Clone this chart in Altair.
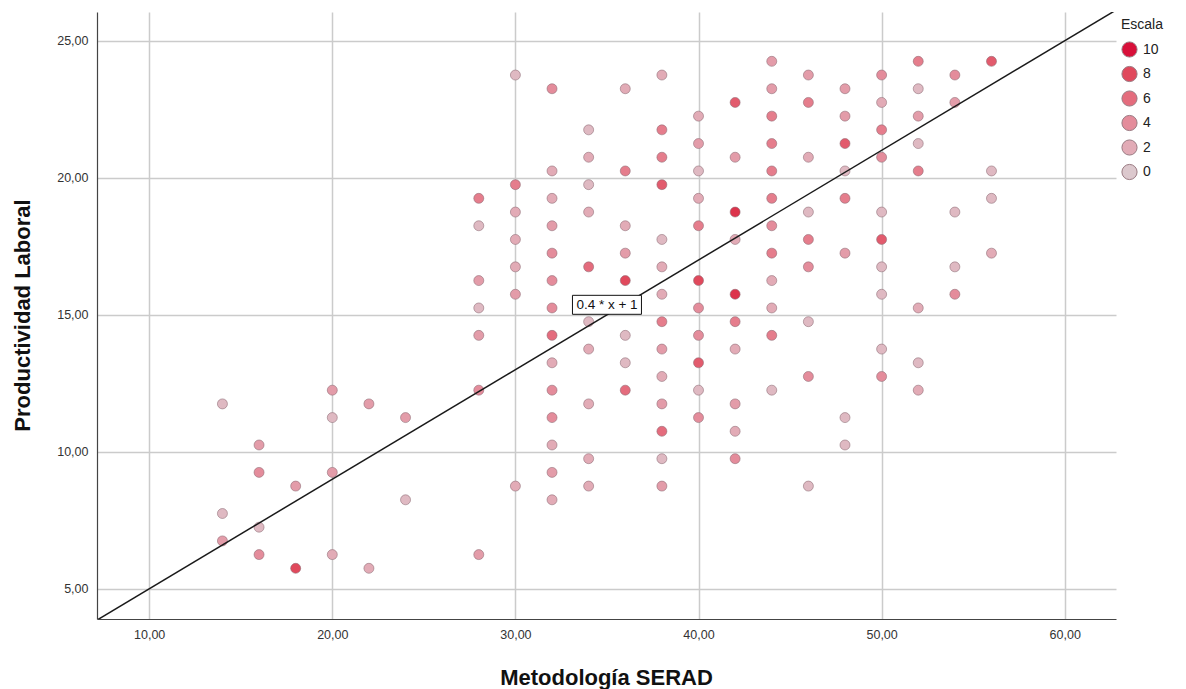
import altair as alt
import pandas as pd

# Metodología SERAD score, Productividad Laboral score and number of cases (Escala)
metodologia = [
    14, 14, 14,
    16, 16, 16, 16,
    18, 18,
    20, 20, 20, 20,
    22, 22,
    24, 24,
    28, 28, 28, 28, 28, 28, 28,
    30, 30, 30, 30, 30, 30, 30,
    32, 32, 32, 32, 32, 32, 32, 32, 32, 32, 32, 32, 32, 32,
    34, 34, 34, 34, 34, 34, 34, 34, 34, 34,
    36, 36, 36, 36, 36, 36, 36, 36,
    38, 38, 38, 38, 38, 38, 38, 38, 38, 38, 38, 38, 38, 38,
    40, 40, 40, 40, 40, 40, 40, 40, 40, 40, 40,
    42, 42, 42, 42, 42, 42, 42, 42, 42, 42,
    44, 44, 44, 44, 44, 44, 44, 44, 44, 44, 44, 44,
    46, 46, 46, 46, 46, 46, 46, 46, 46,
    48, 48, 48, 48, 48, 48, 48, 48,
    50, 50, 50, 50, 50, 50, 50, 50, 50, 50,
    52, 52, 52, 52, 52, 52, 52, 52,
    54, 54, 54, 54, 54,
    56, 56, 56, 56,
]
productividad = [
    11.75, 7.75, 6.75,
    10.25, 9.25, 7.25, 6.25,
    8.75, 5.75,
    12.25, 11.25, 9.25, 6.25,
    11.75, 5.75,
    11.25, 8.25,
    19.25, 18.25, 16.25, 15.25, 14.25, 12.25, 6.25,
    23.75, 19.75, 18.75, 17.75, 16.75, 15.75, 8.75,
    23.25, 20.25, 19.25, 18.25, 17.25, 16.25, 15.25, 14.25, 13.25, 12.25, 11.25, 10.25, 9.25, 8.25,
    21.75, 20.75, 19.75, 18.75, 16.75, 14.75, 13.75, 11.75, 9.75, 8.75,
    23.25, 20.25, 18.25, 17.25, 16.25, 14.25, 13.25, 12.25,
    23.75, 21.75, 20.75, 19.75, 17.75, 16.75, 15.75, 14.75, 13.75, 12.75, 11.75, 10.75, 9.75, 8.75,
    22.25, 21.25, 20.25, 19.25, 18.25, 16.25, 15.25, 14.25, 13.25, 12.25, 11.25,
    22.75, 20.75, 18.75, 17.75, 15.75, 14.75, 13.75, 11.75, 10.75, 9.75,
    24.25, 23.25, 22.25, 21.25, 20.25, 19.25, 18.25, 17.25, 16.25, 15.25, 14.25, 12.25,
    23.75, 22.75, 20.75, 18.75, 17.75, 16.75, 14.75, 12.75, 8.75,
    23.25, 22.25, 21.25, 20.25, 19.25, 17.25, 11.25, 10.25,
    23.75, 22.75, 21.75, 20.75, 18.75, 17.75, 16.75, 15.75, 13.75, 12.75,
    24.25, 23.25, 22.25, 21.25, 20.25, 15.25, 13.25, 12.25,
    23.75, 22.75, 18.75, 16.75, 15.75,
    24.25, 20.25, 19.25, 17.25,
]
escala = [
    1, 1, 3,
    3, 4, 1, 4,
    3, 8,
    3, 1, 3, 2,
    3, 2,
    3, 1,
    5, 1, 3, 1, 3, 4, 3,
    1, 5, 2, 2, 2, 3, 2,
    4, 2, 2, 3, 4, 4, 4, 6, 2, 4, 4, 2, 3, 2,
    1, 2, 1, 2, 6, 1, 2, 2, 2, 2,
    2, 5, 2, 3, 8, 1, 1, 6,
    2, 5, 5, 7, 1, 2, 2, 5, 3, 2, 3, 6, 1, 3,
    2, 3, 1, 2, 5, 8, 4, 4, 7, 1, 4,
    7, 3, 9, 2, 9, 5, 2, 3, 2, 4,
    3, 3, 5, 5, 5, 5, 4, 5, 2, 2, 5, 1,
    3, 5, 2, 1, 5, 4, 1, 4, 1,
    3, 3, 7, 1, 5, 3, 1, 1,
    4, 2, 5, 4, 1, 7, 1, 1, 1, 4,
    5, 1, 3, 1, 5, 2, 1, 2,
    4, 3, 1, 1, 4,
    7, 1, 1, 2,
]

# Reference line y = 0.4 * x + 1
slope, intercept = 0.4, 1.0
line_label = "0.4 * x + 1"
x_domain = [7.15, 62.8]
y_domain = [3.9, 26.05]
legend_values = [10, 8, 6, 4, 2, 0]

points = pd.DataFrame({"x": metodologia, "y": productividad, "n": escala})
line = pd.DataFrame({"x": x_domain, "y": [slope * v + intercept for v in x_domain]})
label_x = 35.0
label = pd.DataFrame({"x": [label_x], "y": [slope * label_x + intercept], "t": [line_label]})

comma = "replace(format(datum.value, '.2f'), '.', ',')"
xs = alt.Scale(domain=x_domain, nice=False, zero=False)
ys = alt.Scale(domain=y_domain, nice=False, zero=False)

x_axis = alt.Axis(
    values=[10, 20, 30, 40, 50, 60], labelExpr=comma, title="Metodología SERAD",
    titleX=509, titleY=58, titleBaseline="middle", titleAlign="center",
    labelPadding=9,
)
y_axis = alt.Axis(
    values=[5, 10, 15, 20, 25], labelExpr=comma, title="Productividad Laboral",
    titleX=-75, titleY=303, titleBaseline="middle", titleAlign="center", titleAngle=270,
    labelPadding=9,
)

scatter = alt.Chart(points).mark_circle(
    size=100, opacity=1, stroke="#8a6a72", strokeWidth=1, strokeOpacity=0.55
).encode(
    x=alt.X("x:Q", scale=xs, axis=x_axis),
    y=alt.Y("y:Q", scale=ys, axis=y_axis),
    color=alt.Color(
        "n:Q",
        scale=alt.Scale(domain=[0, 10], range=["#dcc8cd", "#d8103a"]),
        legend=alt.Legend(
            title="Escala", type="symbol", values=legend_values, orient="none",
            legendX=1024, legendY=6, symbolType="circle", symbolSize=230,
            symbolStrokeColor="#9a7a82", symbolStrokeWidth=1, symbolOpacity=1,
            labelFontSize=14, labelColor="#222", titleFontSize=14,
            titleFontWeight="normal", titleColor="#222", titlePadding=9,
            rowPadding=3.5, labelOffset=5, direction="vertical",
            labelFont="Liberation Sans", titleFont="Liberation Sans",
        ),
    ),
)

fit = alt.Chart(line).mark_line(color="#1a1a1a", strokeWidth=1.5, clip=True).encode(
    x=alt.X("x:Q", scale=xs), y=alt.Y("y:Q", scale=ys)
)

box = alt.Chart(label).mark_point(
    shape="M-1,-0.275L1,-0.275L1,0.275L-1,0.275Z", size=4761, filled=True,
    fill="white", stroke="#111", strokeWidth=1, opacity=1, yOffset=-10,
).encode(x=alt.X("x:Q", scale=xs), y=alt.Y("y:Q", scale=ys))

txt = alt.Chart(label).mark_text(
    fontSize=13.5, color="#111", font="Liberation Sans", yOffset=-10, baseline="middle"
).encode(x=alt.X("x:Q", scale=xs), y=alt.Y("y:Q", scale=ys), text="t:N")

chart = alt.layer(scatter, fit, box, txt).properties(
    width=1019, height=607,
    background="white",
    autosize=alt.AutoSizeParams(type="none"),
    padding={"left": 97, "top": 12, "right": 70, "bottom": 70},
).configure_view(stroke=None).configure_axis(
    labelFont="Liberation Sans", labelFontSize=12.5, labelColor="#333",
    titleFont="Liberation Sans", titleFontSize=22, titleFontWeight="bold", titleColor="#111",
    grid=True, gridColor="#cbcbcb", gridWidth=1.5, ticks=False,
    domainColor="#444", domainWidth=1.2,
)

chart.save("out.html", embed_options={"renderer": "svg", "actions": False})
